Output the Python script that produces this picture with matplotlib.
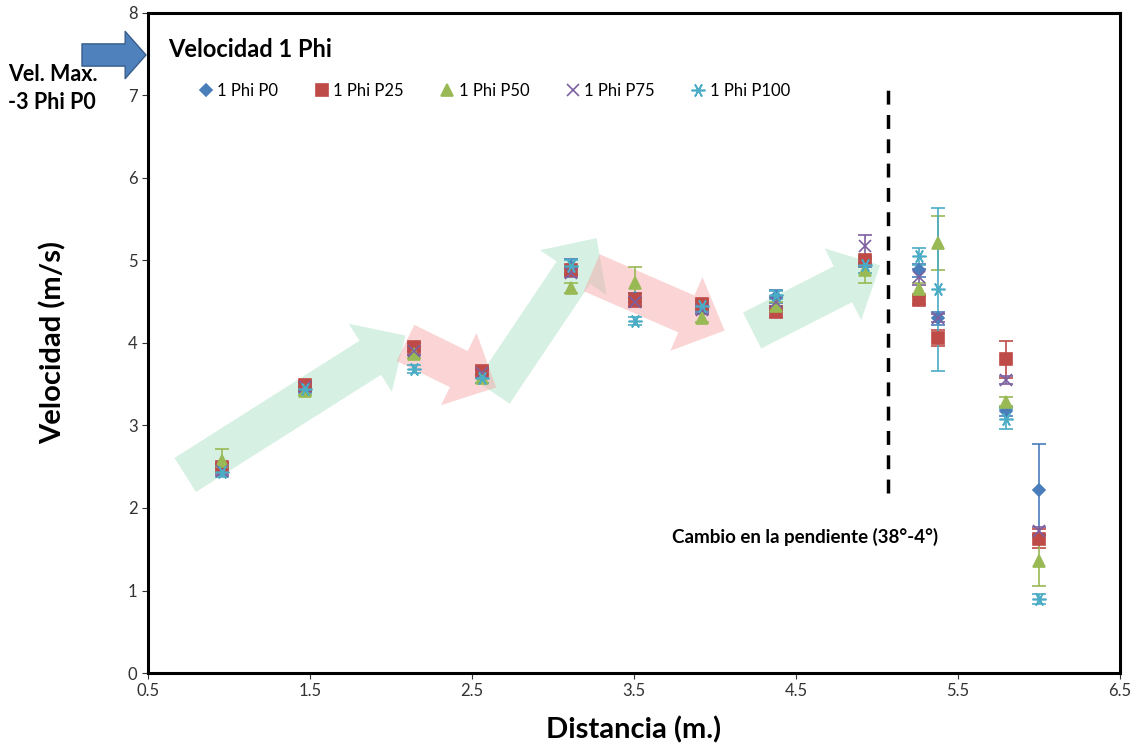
import matplotlib
matplotlib.use('Agg')
import matplotlib.pyplot as plt
from matplotlib.patches import FancyArrowPatch

plt.rcParams['font.family'] = ['Lato', 'DejaVu Sans']

# distancia (m.) de cada grupo de medidas
distancia = [0.96, 1.47, 2.14, 2.56, 3.11, 3.51, 3.92, 4.38, 4.93, 5.26, 5.38, 5.80, 6.00]

p0 = [2.48, 3.47, 3.90, 3.62, 4.92, 4.55, 4.42, 4.56, 4.97, 4.88, 4.30, 3.17, 2.22]
p25 = [2.50, 3.49, 3.95, 3.66, 4.88, 4.52, 4.47, 4.37, 5.00, 4.52, 4.06, 3.80, 1.63]
p50 = [2.57, 3.42, 3.87, 3.57, 4.67, 4.72, 4.30, 4.45, 4.88, 4.65, 5.21, 3.29, 1.36]
p75 = [2.45, 3.46, 3.90, 3.63, 4.85, 4.50, 4.40, 4.50, 5.18, 4.80, 4.30, 3.55, 1.72]
p100 = [2.43, 3.44, 3.68, 3.57, 4.93, 4.27, 4.45, 4.58, 4.95, 5.05, 4.65, 3.08, 0.90]

err_p0 = [0.05, 0.05, 0.05, 0.05, 0.10, 0.05, 0.05, 0.08, 0.05, 0.08, 0.08, 0.05, 0.56]
err_p25 = [0.05, 0.05, 0.05, 0.05, 0.05, 0.08, 0.05, 0.05, 0.05, 0.05, 0.10, 0.22, 0.12]
err_p50 = [0.14, 0.05, 0.05, 0.05, 0.06, 0.20, 0.05, 0.05, 0.15, 0.08, 0.33, 0.05, 0.30]
err_p75 = [0.05, 0.05, 0.05, 0.05, 0.05, 0.05, 0.05, 0.05, 0.13, 0.10, 0.05, 0.05, 0.05]
err_p100 = [0.05, 0.05, 0.05, 0.05, 0.08, 0.05, 0.05, 0.05, 0.10, 0.10, 0.99, 0.12, 0.06]

nombres = ['1 Phi P0', '1 Phi P25', '1 Phi P50', '1 Phi P75', '1 Phi P100']

# flechas de tendencia (inicio, fin) en unidades de datos
flechas_verdes = [((0.73, 2.40), (2.09, 4.09)),
                  ((2.63, 3.40), (3.27, 5.27)),
                  ((4.23, 4.15), (5.02, 4.94))]
flechas_rojas = [((2.09, 4.00), (2.65, 3.46)),
                 ((3.24, 4.85), (4.06, 4.15))]

fig = plt.figure(figsize=(11.38, 7.52), dpi=100)
ax = fig.add_axes([0.130, 0.105, 0.854, 0.878])

estilo = 'simple,head_length=3.0,head_width=5.8,tail_width=2.9'
for (a, b) in flechas_verdes:
    ax.add_patch(FancyArrowPatch(a, b, arrowstyle=estilo, mutation_scale=10,
                                 shrinkA=0, shrinkB=0, color='#a6dfc3', alpha=0.45,
                                 lw=0, zorder=1))
for (a, b) in flechas_rojas:
    ax.add_patch(FancyArrowPatch(a, b, arrowstyle=estilo, mutation_scale=10,
                                 shrinkA=0, shrinkB=0, color='#f7a3a3', alpha=0.45,
                                 lw=0, zorder=1))

series = [p0, p25, p50, p75, p100]
errores = [err_p0, err_p25, err_p50, err_p75, err_p100]
colores = ['#4a7ebb', '#be4b48', '#98b954', '#7d60a0', '#4bacc6']
marcadores = ['D', 's', '^', 'x', (6, 2, 90)]
tamanos = [6, 8, 8, 9, 10]

for serie, err, c, m, ms, nom in zip(series, errores, colores, marcadores, tamanos, nombres):
    ax.errorbar(distancia, serie, yerr=err, fmt='none', ecolor=c, elinewidth=1.2,
                capsize=5, capthick=1.2, zorder=3)
    ax.plot(distancia, serie, linestyle='none', marker=m, color=c, markersize=ms,
            markeredgewidth=1.2, label=nom, zorder=4)

# cambio de pendiente
ax.plot([5.07, 5.07], [2.18, 7.08], color='black', lw=2.5, linestyle=(0, (4, 3)), zorder=2)
ax.text(4.56, 1.65, 'Cambio en la pendiente (38°-4°)', fontsize=13.5, fontweight='bold',
        ha='center', va='center')

ax.set_xlim(0.5, 6.5)
ax.set_ylim(0, 8)
ax.set_xticks([0.5, 1.5, 2.5, 3.5, 4.5, 5.5, 6.5])
ax.set_yticks(range(0, 9))
ax.tick_params(labelsize=12, colors='#333333', length=4, width=0.8)
for s in ax.spines.values():
    s.set_linewidth(2.2)

ax.set_xlabel('Distancia (m.)', fontsize=21, fontweight='bold', labelpad=12)
ax.set_ylabel('Velocidad (m/s)', fontsize=21, fontweight='bold', labelpad=44)

ax.text(0.021, 0.944, 'Velocidad 1 Phi', transform=ax.transAxes, fontsize=17,
        fontweight='bold', va='center', ha='left')
ax.legend(loc='center', bbox_to_anchor=(0.355, 0.882), ncol=5, frameon=False,
          fontsize=12, handletextpad=0.1, columnspacing=2.0, handlelength=1.2)

# flecha y texto de la velocidad maxima
fig.patches.append(FancyArrowPatch((82 / 1138, 1 - 55 / 752), (146 / 1138, 1 - 55 / 752),
                                   transform=fig.transFigure,
                                   arrowstyle='simple,head_length=1.5,head_width=3.4,tail_width=1.6',
                                   mutation_scale=10, shrinkA=0, shrinkB=0,
                                   facecolor='#4f81bd', edgecolor='#385d8a', lw=1))
fig.text(0.007, 0.882, 'Vel. Max.\n-3 Phi P0', fontsize=15.5, fontweight='bold',
         ha='left', va='center', linespacing=1.4)

fig.savefig('out.png', dpi=100)
